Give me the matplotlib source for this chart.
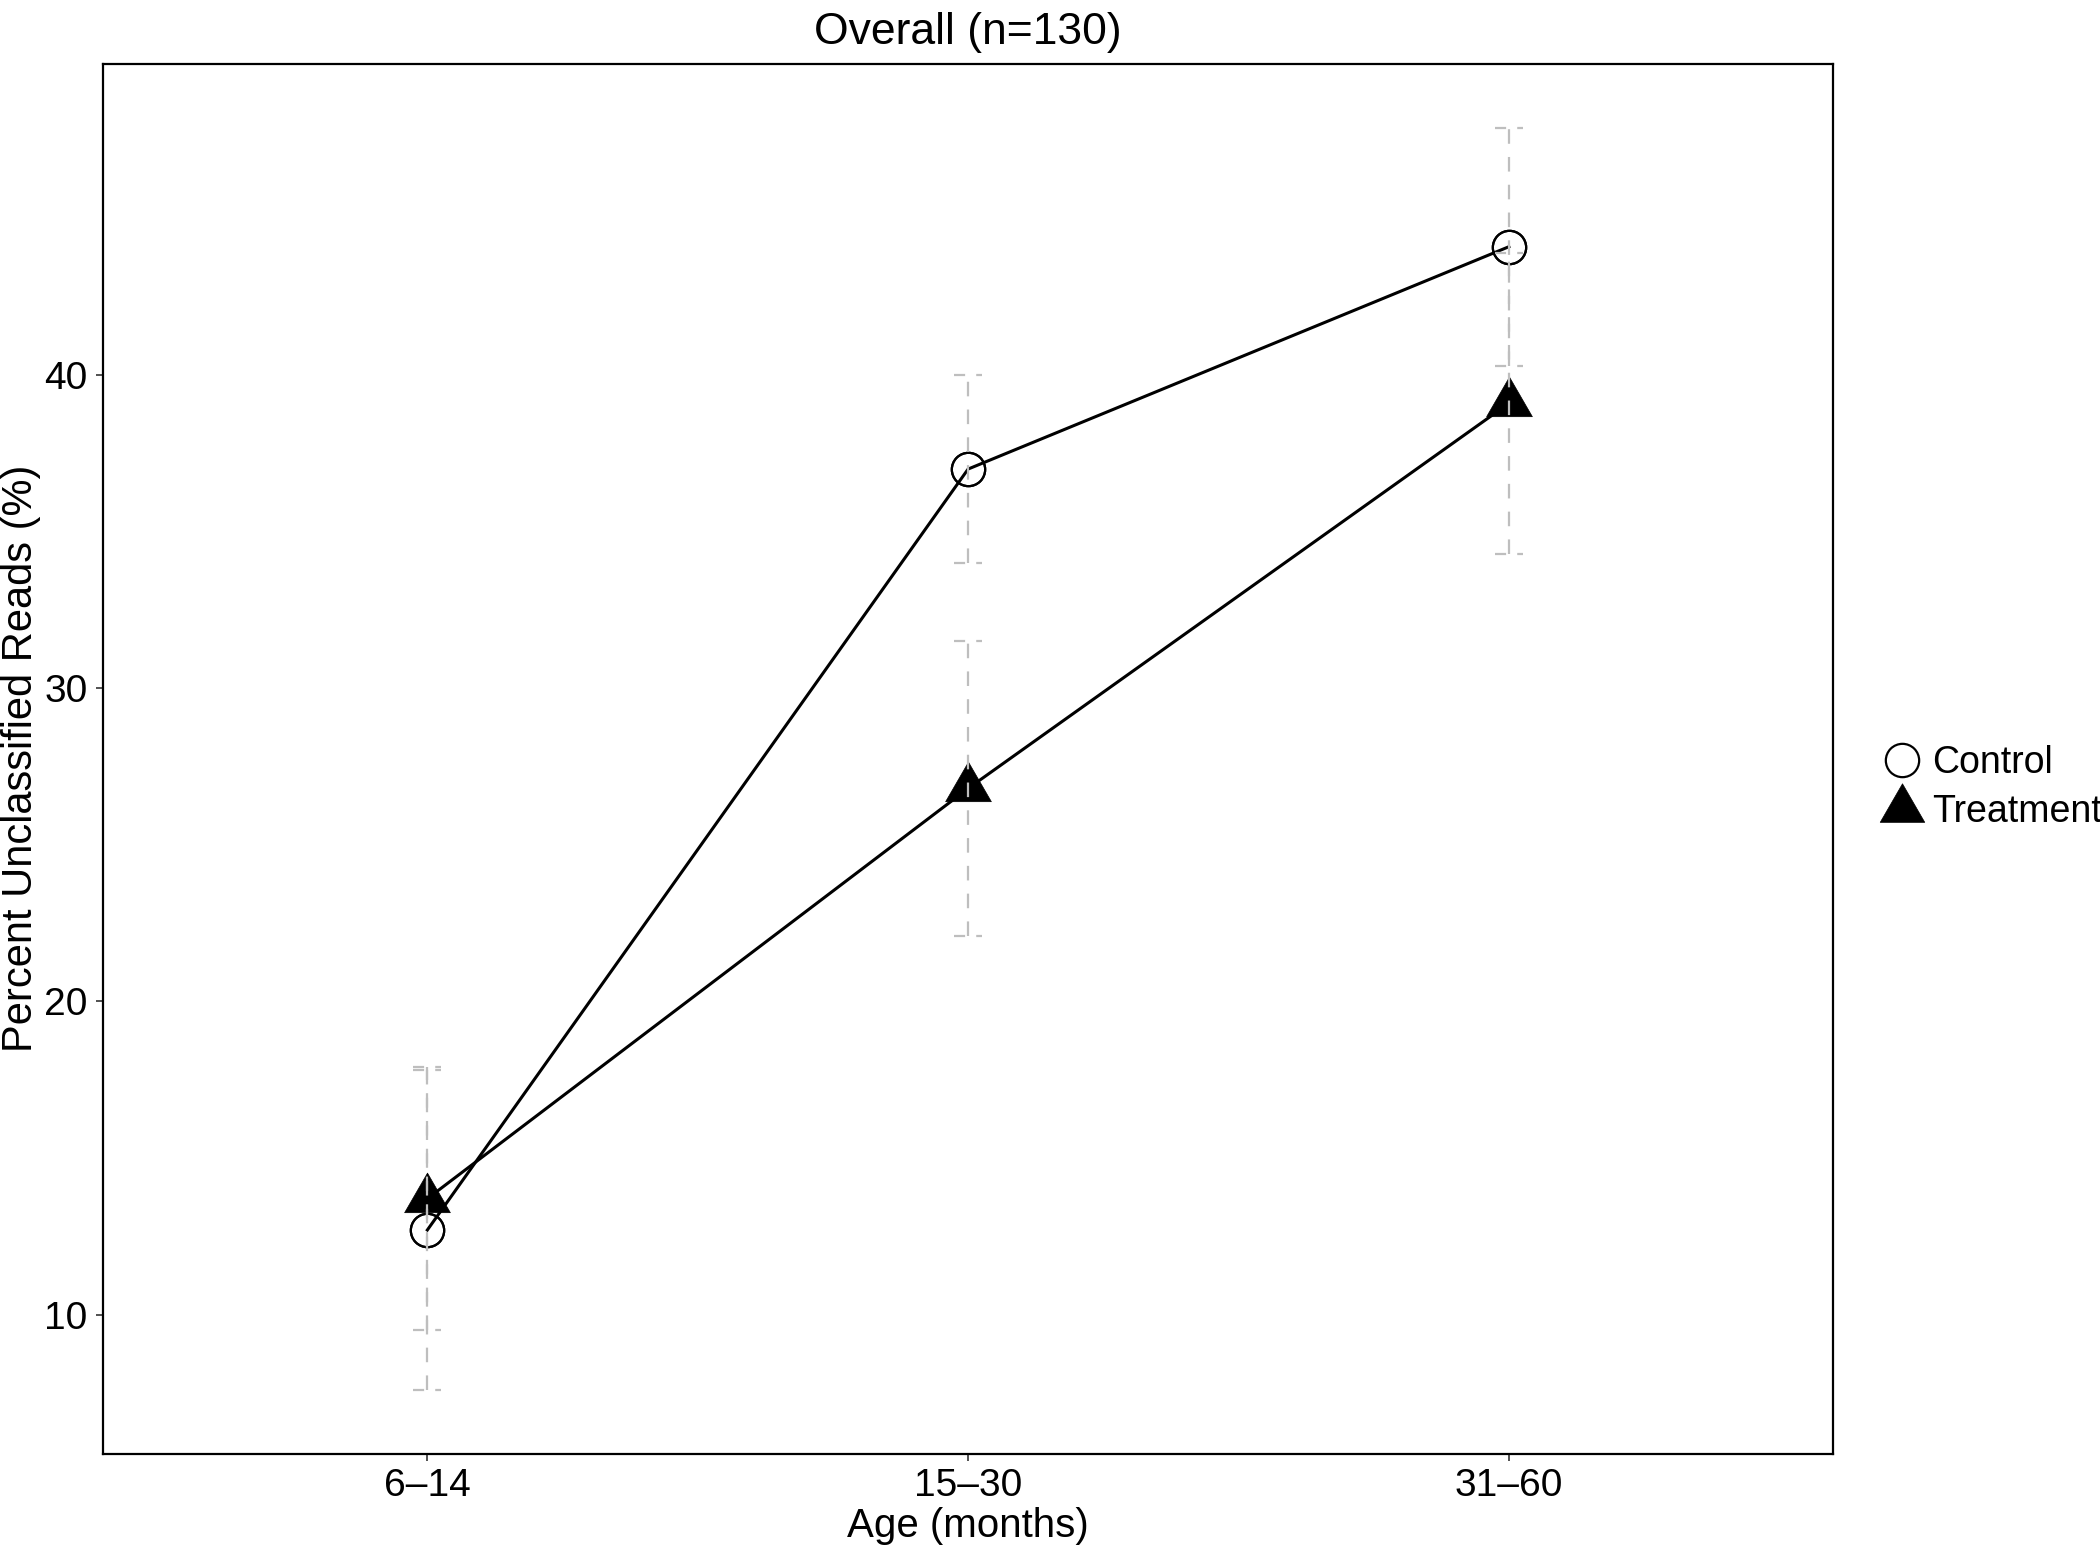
import matplotlib
matplotlib.use("Agg")
import matplotlib.pyplot as plt
from matplotlib.path import Path
from matplotlib.lines import Line2D
import numpy as np

plt.rcParams['font.family'] = ['Liberation Sans', 'DejaVu Sans']
plt.rcParams['lines.scale_dashes'] = False

age_groups = ["6\u201314", "15\u201330", "31\u201360"]
control_mean = [12.7, 37.0, 44.1]
control_se = [5.1, 3.0, 3.8]
treatment_mean = [13.7, 26.8, 39.1]
treatment_se = [4.2, 4.7, 4.8]
series_names = ["Control", "Treatment"]
y_ticks = [10, 20, 30, 40]

tri = Path([(0, 1), (-np.sqrt(3) / 2, -0.5), (np.sqrt(3) / 2, -0.5), (0, 1)],
           [Path.MOVETO, Path.LINETO, Path.LINETO, Path.CLOSEPOLY])

fig = plt.figure(figsize=(21, 15.5), dpi=100)
ax = fig.add_axes([0.049, 0.062, 0.824, 0.897])

x = np.arange(len(age_groups))
vdash = (0, (10.5, 9.5))
cdash = (0, (8, 8))
errc = '#BEBEBE'
capw = 0.026

for m, s in [(control_mean, control_se), (treatment_mean, treatment_se)]:
    m = np.array(m); s = np.array(s)
    ax.vlines(x, m - s, m + s, colors=errc, linestyles=vdash, linewidth=1.6, zorder=5)
    ax.hlines(m - s, x - capw, x + capw, colors=errc, linestyles=cdash, linewidth=1.6, zorder=5)
    ax.hlines(m + s, x - capw, x + capw, colors=errc, linestyles=cdash, linewidth=1.6, zorder=5)

ax.plot(x, control_mean, color='black', linewidth=2.2, zorder=3)
ax.plot(x, treatment_mean, color='black', linewidth=2.2, zorder=3)
ax.plot(x, control_mean, linestyle='none', marker='o', markersize=24,
        markerfacecolor='white', markeredgecolor='black', markeredgewidth=1.6, zorder=2)
ax.plot(x, control_mean, linestyle='none', marker='o', markersize=24,
        markerfacecolor='none', markeredgecolor='black', markeredgewidth=1.6, zorder=4)
ax.plot(x, treatment_mean, linestyle='none', marker=tri, markersize=38,
        markerfacecolor='black', markeredgecolor='black', markeredgewidth=0.5, zorder=4)

ax.set_xlim(-0.6, 2.6)
ax.set_ylim(5.55, 49.95)
ax.set_xticks(x)
ax.set_xticklabels(age_groups)
ax.set_yticks(y_ticks)
ax.tick_params(axis='both', labelsize=28, length=5, width=1.2, color='#333333', labelcolor='black')
ax.tick_params(axis='x', pad=5)
ax.tick_params(axis='y', pad=6)
for sp in ax.spines.values():
    sp.set_linewidth(1.6)
    sp.set_color('black')

ax.set_title("Overall (n=130)", fontsize=32, pad=14)
ax.set_xlabel("Age (months)", fontsize=29, labelpad=2)
ax.set_ylabel("Percent Unclassified Reads (%)", fontsize=30)
ax.yaxis.set_label_coords(-0.036, 0.5)

handles = [
    Line2D([], [], linestyle='none', marker='o', markersize=24, markerfacecolor='white',
           markeredgecolor='black', markeredgewidth=1.6),
    Line2D([], [], linestyle='none', marker=tri, markersize=37, markerfacecolor='black',
           markeredgecolor='black', markeredgewidth=0.5),
]
fig.legend(handles, series_names, loc='center left', bbox_to_anchor=(0.888, 0.492),
           frameon=False, fontsize=27, handletextpad=0.2, labelspacing=0.35,
           handlelength=1.2, borderaxespad=0)

fig.savefig("out.png", dpi=100)
